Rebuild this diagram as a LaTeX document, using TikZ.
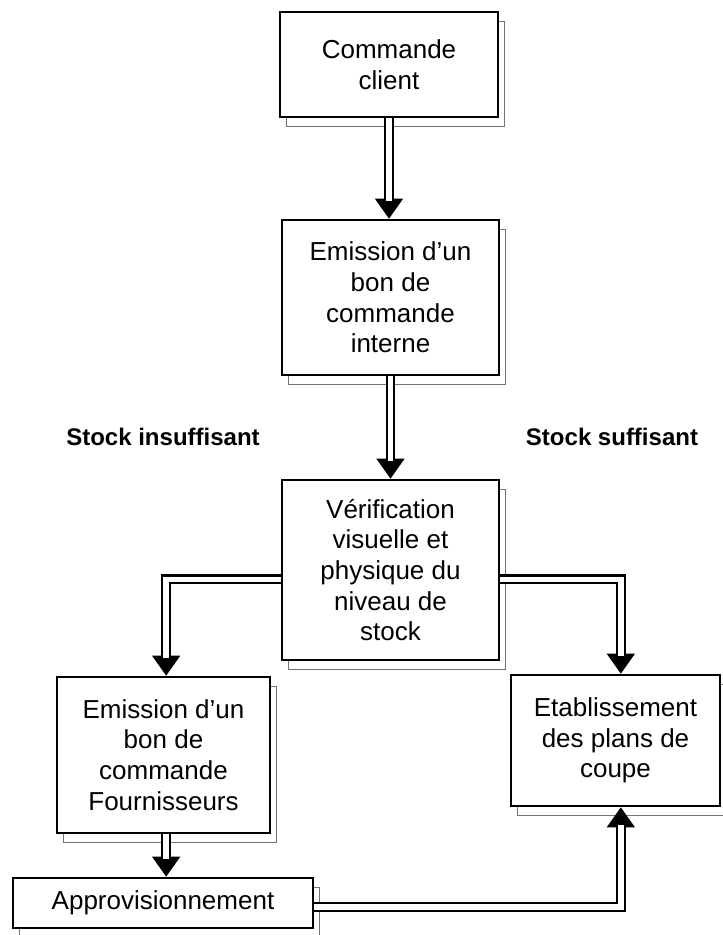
\documentclass[tikz,border=0pt]{standalone}
\usepackage{fontspec}
\setmainfont{Liberation Sans}
\usetikzlibrary{arrows.meta}
\usetikzlibrary{shadows}

\newcommand{\boxfont}{\fontsize{19.5}{23}\selectfont}
\newcommand{\lblfont}{\fontsize{18}{21}\selectfont\bfseries}

\tikzset{
	stepbox/.style={draw, line width=2pt, fill=white, align=center, font=\boxfont, inner sep=0pt,
		copy shadow={shadow xshift=5pt, shadow yshift=-7pt, draw=black!55, line width=.6pt, fill=white}},
	twin/.style={draw, line width=1.6pt, double, double distance=4.2pt, shorten >=13pt},
	head/.style={line width=1pt, -{Triangle[length=15pt,width=21pt]}},
	stocklbl/.style={font=\lblfont, inner sep=0pt}
}

\begin{document}
\begin{tikzpicture}[x=0.75pt,y=-0.75pt]
		\useasboundingbox (0,0) rectangle (722,935);
		
		% boxes
		\node[stepbox, minimum width=163.5pt, minimum height=78.75pt] (cmd) at (389,64.5) {Commande\\client};
		\node[stepbox, minimum width=162.75pt, minimum height=116.25pt] (bci) at (390.5,297.5) {Emission d’un\\bon de\\commande\\interne};
		\node[stepbox, minimum width=162.75pt, minimum height=135pt] (ver) at (390.5,570) {Vérification\\visuelle et\\physique du\\niveau de\\stock};
		\node[stepbox, minimum width=159.75pt, minimum height=117pt] (bcf) at (163.5,755) {Emission d’un\\bon de\\commande\\Fournisseurs};
		\node[stepbox, minimum width=156.75pt, minimum height=98.25pt] (plan) at (615.5,740.5) {Etablissement\\des plans de\\coupe};
		\node[stepbox, minimum width=225pt, minimum height=37.5pt] (appro) at (163,903) {Approvisionnement};
		
		% branch labels
		\node[stocklbl] (insuf) at (163,437) {Stock insuffisant};
		\node[stocklbl] (suf) at (612,437) {Stock suffisant};
		
		% arrow heads first, double lines on top
		\draw[head] (cmd.south) -- (cmd.south |- bci.north);
		\draw[twin] (cmd.south) -- (cmd.south |- bci.north);
		\draw[head] (bci.south) -- (bci.south |- ver.north);
		\draw[twin] (bci.south) -- (bci.south |- ver.north);
		
		\draw[head] ([yshift=-7pt]ver.west) -| ([xshift=2pt]bcf.north);
		\draw[twin] ([yshift=-7pt]ver.west) -| ([xshift=2pt]bcf.north);
		\draw[head] ([yshift=-7pt]ver.east) -| ([xshift=4pt]plan.north);
		\draw[twin] ([yshift=-7pt]ver.east) -| ([xshift=4pt]plan.north);
		
		\draw[head] ([xshift=2pt]bcf.south) -- ([xshift=2pt]bcf.south |- appro.north);
		\draw[twin] ([xshift=2pt]bcf.south) -- ([xshift=2pt]bcf.south |- appro.north);
		\draw[head] ([yshift=-3pt]appro.east) -| ([xshift=4pt]plan.south);
		\draw[twin] ([yshift=-3pt]appro.east) -| ([xshift=4pt]plan.south);
	\end{tikzpicture}
\end{document}
